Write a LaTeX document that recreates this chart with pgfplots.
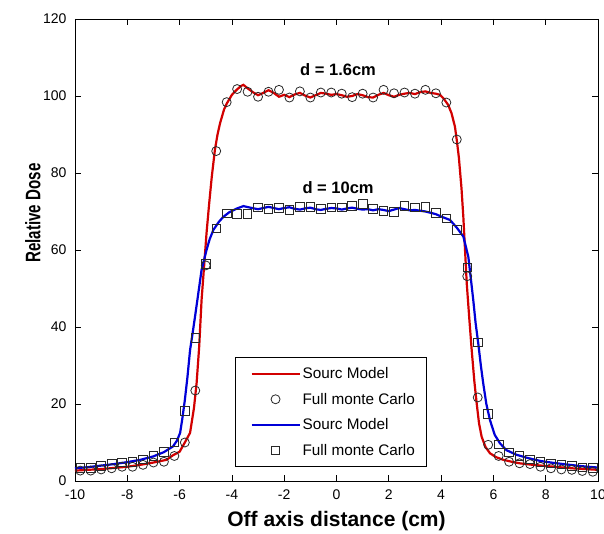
\documentclass[border=0pt]{standalone}
\usepackage{pgfplots}
\pgfplotsset{compat=1.18}
\usepackage{graphicx}
\usepackage{fontspec}
\setmainfont{Liberation Sans}
\usetikzlibrary{calc}
\definecolor{mred}{RGB}{210,0,0}
\definecolor{mblue}{RGB}{0,0,215}
\definecolor{mk}{RGB}{40,40,40}

\pgfplotsset{
  lineleg/.style={legend image code/.code={\path (0pt,0pt); \draw[##1] (5pt,0pt) -- (53pt,0pt);}},
  markleg/.style={legend image code/.code={\path (0pt,0pt); \draw[mark repeat=2,mark phase=2,##1] plot coordinates {(5pt,0pt) (29pt,0pt) (53pt,0pt)};}},
}

% d = 1.6 cm: source model and full Monte Carlo
\pgfplotstableread{
x y
-10 2.7
-9.5 2.9
-9 3.1
-8.5 3.4
-8 3.7
-7.5 4.2
-7 4.8
-6.5 5.5
-6.25 6.7
-6.0 7.6
-5.8 10.0
-5.6 12.5
-5.45 19
-5.35 25.4
-5.25 35
-5.16 47
-5.05 57
-4.97 64.4
-4.87 72
-4.77 79
-4.65 86
-4.55 90
-4.45 93
-4.3 96.5
-4.2 98
-4.0 100.3
-3.82 101.6
-3.65 102.6
-3.56 102.9
-3.4 102.0
-3.2 101.0
-3.0 100.2
-2.8 100.8
-2.6 101.5
-2.4 100.8
-2.2 99.8
-2.0 100.3
-1.8 99.7
-1.6 100.4
-1.4 100.8
-1.2 100.1
-1.0 99.6
-0.8 100.2
-0.6 100.8
-0.4 100.6
-0.2 100.3
0 100.5
0.2 100.2
0.4 99.8
0.6 100.0
0.8 100.5
1.0 100.2
1.2 99.7
1.4 99.6
1.6 100.3
1.8 100.8
2.0 100.2
2.2 99.8
2.4 100.3
2.6 100.6
2.8 100.8
3.0 100.5
3.2 101.0
3.4 101.2
3.6 100.8
3.8 100.6
3.96 100.3
4.1 99.3
4.27 97.7
4.4 95.5
4.53 92
4.6 88.5
4.68 84
4.78 76
4.85 68.6
4.98 51.4
5.08 42
5.17 34
5.27 26
5.36 20.2
5.45 15
5.55 11.5
5.7 8.8
5.87 7.2
6.1 6.2
6.38 5.5
6.7 5.0
7 4.6
7.5 4.2
8 3.9
8.5 3.6
9 3.3
9.5 3.1
10 2.9
}\redline

\pgfplotstableread{
x y
-9.8 2.7
-9.4 2.7
-9.0 3.0
-8.6 3.3
-8.2 3.7
-7.8 3.7
-7.4 4.2
-7.0 4.8
-6.6 5.0
-6.2 6.5
-5.8 10.0
-5.4 23.5
-5.0 56.0
-4.6 85.7
-4.2 98.4
-3.8 101.8
-3.4 101.1
-3.0 99.8
-2.6 101.1
-2.2 101.6
-1.8 99.6
-1.4 101.2
-1.0 99.6
-0.6 100.9
-0.2 100.9
0.2 100.6
0.6 99.7
1.0 100.6
1.4 99.6
1.8 101.6
2.2 100.7
2.6 100.9
3.0 100.6
3.4 101.6
3.8 100.7
4.2 98.3
4.6 88.7
5.0 53.2
5.4 21.7
5.8 9.4
6.2 6.5
6.6 5.0
7.0 4.6
7.4 4.4
7.8 3.7
8.2 3.3
8.6 3.0
9.0 2.9
9.4 2.6
9.8 2.4
}\circles

% d = 10 cm
\pgfplotstableread{
x y
-10 3.3
-9.5 3.6
-9 4.0
-8.5 4.4
-8 4.9
-7.5 5.5
-7 6.4
-6.6 7.5
-6.25 9.0
-6.1 10.5
-5.98 12.5
-5.9 16
-5.8 21
-5.7 27
-5.6 34
-5.5 38.5
-5.41 42.7
-5.3 48
-5.16 54.8
-4.97 60
-4.85 62.8
-4.71 65.2
-4.5 67.3
-4.33 68.6
-4.1 69.8
-3.8 70.8
-3.56 71.4
-3.3 71.0
-3.0 70.6
-2.8 70.9
-2.6 71.2
-2.4 70.9
-2.2 70.6
-2.0 70.9
-1.8 71.1
-1.6 70.7
-1.4 70.5
-1.2 70.8
-1.0 71.0
-0.8 70.6
-0.6 70.4
-0.4 70.7
-0.2 70.9
0 70.8
0.2 70.5
0.4 70.8
0.6 71.0
0.8 70.7
1.0 70.5
1.2 70.6
1.4 70.3
1.6 70.6
1.8 70.4
2.0 70.1
2.2 70.5
2.4 70.9
2.6 70.6
2.8 70.3
3.0 70.4
3.2 70.2
3.4 70.0
3.58 69.7
3.8 69.3
4.0 68.7
4.34 67.8
4.6 65.8
4.85 63.5
5.04 58.3
5.13 53
5.23 47
5.32 41
5.42 35.8
5.52 30
5.61 25.4
5.73 20
5.87 15.8
6.05 12
6.25 9.8
6.5 8.0
6.89 6.8
7.3 6.0
7.8 5.2
8.3 4.7
8.8 4.3
9.3 3.9
9.8 3.6
10 3.5
}\blueline

\pgfplotstableread{
x y
-9.8 3.4
-9.4 3.4
-9.0 3.9
-8.6 4.4
-8.2 4.8
-7.8 5.0
-7.4 5.6
-7.0 6.5
-6.6 7.6
-6.2 10.0
-5.8 18.2
-5.4 37.1
-5.0 56.4
-4.6 65.6
-4.2 69.5
-3.8 69.4
-3.4 69.4
-3.0 71.1
-2.6 70.6
-2.2 71.0
-1.8 70.4
-1.4 71.2
-1.0 71.2
-0.6 70.6
-0.2 71.1
0.2 71.1
0.6 71.5
1.0 71.9
1.4 70.6
1.8 70.1
2.2 69.9
2.6 71.4
3.0 71.1
3.4 71.2
3.8 69.6
4.2 68.2
4.6 65.2
5.0 55.5
5.4 36.0
5.8 17.5
6.2 9.5
6.6 7.4
7.0 6.5
7.4 5.6
7.8 5.0
8.2 4.6
8.6 4.3
9.0 3.9
9.4 3.5
9.8 3.4
}\squares

\begin{document}
\begin{tikzpicture}
\begin{axis}[
    scale only axis,
    width=523pt, height=462pt,
    xmin=-10, xmax=10, ymin=0, ymax=120,
    xtick={-10,-8,...,10}, ytick={0,20,...,120},
    tick align=inside, major tick length=6pt,
    axis line style={line width=0.8pt},
    every tick/.style={black, line width=0.8pt},
    /pgf/number format/assume math mode=true,
    ticklabel style={font=\fontsize{14}{16}\selectfont},
    xticklabel style={yshift=-5pt},
    yticklabel style={xshift=-5pt},
    xlabel={Off axis distance (cm)},
    ylabel={\scalebox{0.72}[1]{Relative Dose}},
    label style={font=\bfseries\fontsize{21}{24}\selectfont},
    xlabel style={yshift=-5pt},
    ylabel style={at={(rel axis cs:-0.059,0.58)}, anchor=south},
    legend cell align=left,
    legend style={at={(rel axis cs:0.306,0.03)}, anchor=south west,
        font=\fontsize{15.3}{16}\selectfont, draw=black, line width=0.8pt,
        row sep=9pt, inner xsep=10pt, inner ysep=8pt},
]
\addplot[mred, line width=2.2pt, lineleg] table[x=x,y=y] {\redline};
\addlegendentry{Sourc Model}
\addplot[only marks, mark=o, mark size=4.5pt, mk, line width=0.8pt, markleg]
    table[x=x,y=y] {\circles};
\addlegendentry{Full monte Carlo}
\addplot[mblue, line width=2.2pt, lineleg] table[x=x,y=y] {\blueline};
\addlegendentry{Sourc Model}
\addplot[only marks, mark=square, mark size=4.3pt, mk, line width=0.8pt, markleg]
    table[x=x,y=y] {\squares};
\addlegendentry{Full monte Carlo}
\node[font=\bfseries\fontsize{16.5}{18}\selectfont] at (axis cs:0.06,106.8) {d = 1.6cm};
\node[font=\bfseries\fontsize{16.5}{18}\selectfont] at (axis cs:0.06,76.2) {d = 10cm};
\coordinate (sw) at (rel axis cs:0,0);
\coordinate (ne) at (rel axis cs:1,1);
\end{axis}
\pgfresetboundingbox
\path[use as bounding box] ($(sw)+(-75pt,-53pt)$) rectangle ($(ne)+(6pt,19pt)$);
\end{tikzpicture}
\end{document}
